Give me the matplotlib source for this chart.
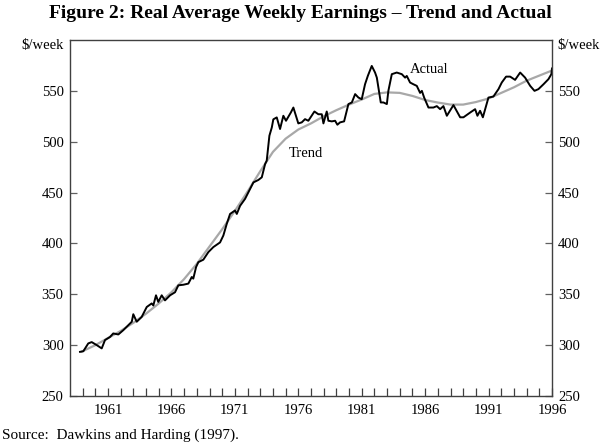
import numpy as np
import matplotlib
matplotlib.use("Agg")
import matplotlib.pyplot as plt

plt.rcParams['font.family'] = ['Liberation Serif', 'DejaVu Serif']

#---------Data (year, $/week)------
actual_years = [1958.79, 1959.05, 1959.44, 1959.71, 1960.11, 1960.50, 1960.76, 1961.15,
                1961.41, 1961.81, 1962.20, 1962.60, 1962.87, 1962.99, 1963.26, 1963.65,
                1964.05, 1964.44, 1964.57, 1964.78, 1964.96, 1965.23, 1965.49, 1965.89,
                1966.28, 1966.54, 1966.94, 1967.33, 1967.60, 1967.72, 1967.94, 1968.12,
                1968.51, 1968.91, 1969.30, 1969.83, 1970.09, 1970.36, 1970.62, 1971.01,
                1971.15, 1971.41, 1971.80, 1972.20, 1972.46, 1972.85, 1973.12, 1973.38,
                1973.51, 1973.72, 1973.91, 1974.03, 1974.30, 1974.56, 1974.82, 1975.03,
                1975.41, 1975.61, 1976.00, 1976.27, 1976.53, 1976.79, 1977.27, 1977.58,
                1977.85, 1977.98, 1978.24, 1978.37, 1978.64, 1978.90, 1979.08, 1979.29,
                1979.61, 1979.95, 1980.22, 1980.48, 1980.74, 1981.00, 1981.26, 1981.48,
                1981.79, 1982.05, 1982.19, 1982.50, 1982.71, 1982.98, 1983.10, 1983.37,
                1983.76, 1984.16, 1984.42, 1984.55, 1984.81, 1985.07, 1985.34, 1985.60,
                1985.74, 1985.92, 1986.26, 1986.65, 1986.92, 1987.18, 1987.44, 1987.71,
                1988.23, 1988.76, 1989.02, 1989.55, 1989.94, 1990.12, 1990.33, 1990.55,
                1990.99, 1991.38, 1991.78, 1992.04, 1992.38, 1992.70, 1993.09, 1993.49,
                1993.88, 1994.28, 1994.62, 1994.93, 1995.33, 1995.72, 1995.95, 1996.0]
actual_values = [293.4, 294.0, 301.7, 303.0, 300.0, 296.8, 305.0, 308.0,
                 311.5, 310.5, 314.7, 319.6, 323.0, 330.4, 323.0, 327.7,
                 337.5, 341.0, 339.0, 349.0, 342.5, 349.0, 344.0, 349.0,
                 352.0, 358.8, 359.4, 360.5, 367.0, 365.4, 376.8, 381.6,
                 384.0, 391.5, 396.4, 401.0, 407.8, 419.3, 429.0, 432.4,
                 429.0, 437.0, 443.8, 453.6, 460.0, 462.4, 465.0, 478.0,
                 481.4, 505.9, 514.0, 522.0, 523.9, 512.5, 525.5, 520.6,
                 528.7, 533.6, 518.0, 519.0, 522.2, 520.6, 529.7, 527.0,
                 527.0, 518.0, 529.7, 520.6, 520.0, 520.6, 516.7, 519.0,
                 520.0, 537.0, 538.6, 546.8, 543.4, 541.8, 556.5, 564.7,
                 574.5, 568.0, 563.0, 538.6, 538.6, 537.0, 550.0, 566.4,
                 568.0, 566.4, 563.0, 564.7, 558.2, 556.5, 554.9, 548.0,
                 550.0, 543.4, 533.6, 533.6, 535.0, 532.0, 535.0, 525.5,
                 536.0, 524.0, 524.0, 528.7, 532.0, 525.5, 530.4, 524.0,
                 543.4, 544.4, 551.7, 558.2, 564.0, 564.0, 560.8, 568.0,
                 563.0, 554.9, 550.0, 551.7, 556.5, 561.5, 566.4, 572.0]

trend_years = [1958.9, 1960, 1961, 1962, 1963, 1964, 1965, 1966, 1967, 1968, 1969,
               1970, 1971, 1972, 1973, 1974, 1975, 1976, 1977, 1978, 1979, 1980,
               1981, 1982, 1983, 1984, 1985, 1986, 1987, 1988, 1989, 1990, 1991,
               1992, 1993, 1994, 1995, 1996]
trend_values = [293.5, 300, 307, 314, 322, 331, 341, 352, 365, 380, 397,
                414, 432, 451, 471, 490, 503, 512, 518, 525, 531, 536.5,
                541.5, 547, 548.5, 548, 545, 541, 538.5, 536.5, 536.5, 539, 542.5,
                548, 553.5, 560, 565, 570]

year_labels = [1961, 1966, 1971, 1976, 1981, 1986, 1991, 1996]
y_ticks = [250, 300, 350, 400, 450, 500, 550]

#---------Figure------
fig = plt.figure(figsize=(6, 4.43), dpi=100)
ax = fig.add_axes([70 / 600, 47 / 443, 482 / 600, 356 / 443])

ax.plot(trend_years, trend_values, color='#a8a8a8', linewidth=1.6, solid_capstyle='round')
ax.plot(actual_years, actual_values, color='black', linewidth=1.4, solid_joinstyle='round')

ax.set_xlim(1958, 1996)
ax.set_ylim(250, 600)

ax.set_xticks(year_labels)
ax.set_xticks(np.arange(1959, 1996), minor=True)
ax.set_xticklabels([str(y) for y in year_labels])
ax.set_yticks(y_ticks)

for side in ['left', 'right', 'top', 'bottom']:
    ax.spines[side].set_color('#404040')
    ax.spines[side].set_linewidth(1.0)

ax.tick_params(axis='x', which='both', direction='in', length=6, width=0.9,
               color='#404040', pad=6, labelsize=10.5, top=False)
ax.tick_params(axis='y', which='both', direction='in', length=5, width=0.9,
               color='#606060', pad=4.5, labelsize=10.5, left=True, right=True,
               labelleft=True, labelright=True)

ax.text(-0.012, 595, '$/week', transform=ax.get_yaxis_transform(), ha='right',
        va='center', fontsize=10.5)
ax.text(1.012, 595, '$/week', transform=ax.get_yaxis_transform(), ha='left',
        va='center', fontsize=10.5)

ax.text(1986.3, 570.6, 'Actual', ha='center', va='center', fontsize=10.5)
ax.text(1976.6, 488.2, 'Trend', ha='center', va='center', fontsize=10.5)

fig.text(0.5, 1 - 13 / 443, 'Figure 2: Real Average Weekly Earnings \u2013 Trend and Actual',
         ha='center', va='center', fontsize=14, fontweight='bold')
fig.text(2 / 600, 1 - 435 / 443, 'Source:  Dawkins and Harding (1997).',
         ha='left', va='center', fontsize=11)

fig.savefig('out.png', dpi=100)
